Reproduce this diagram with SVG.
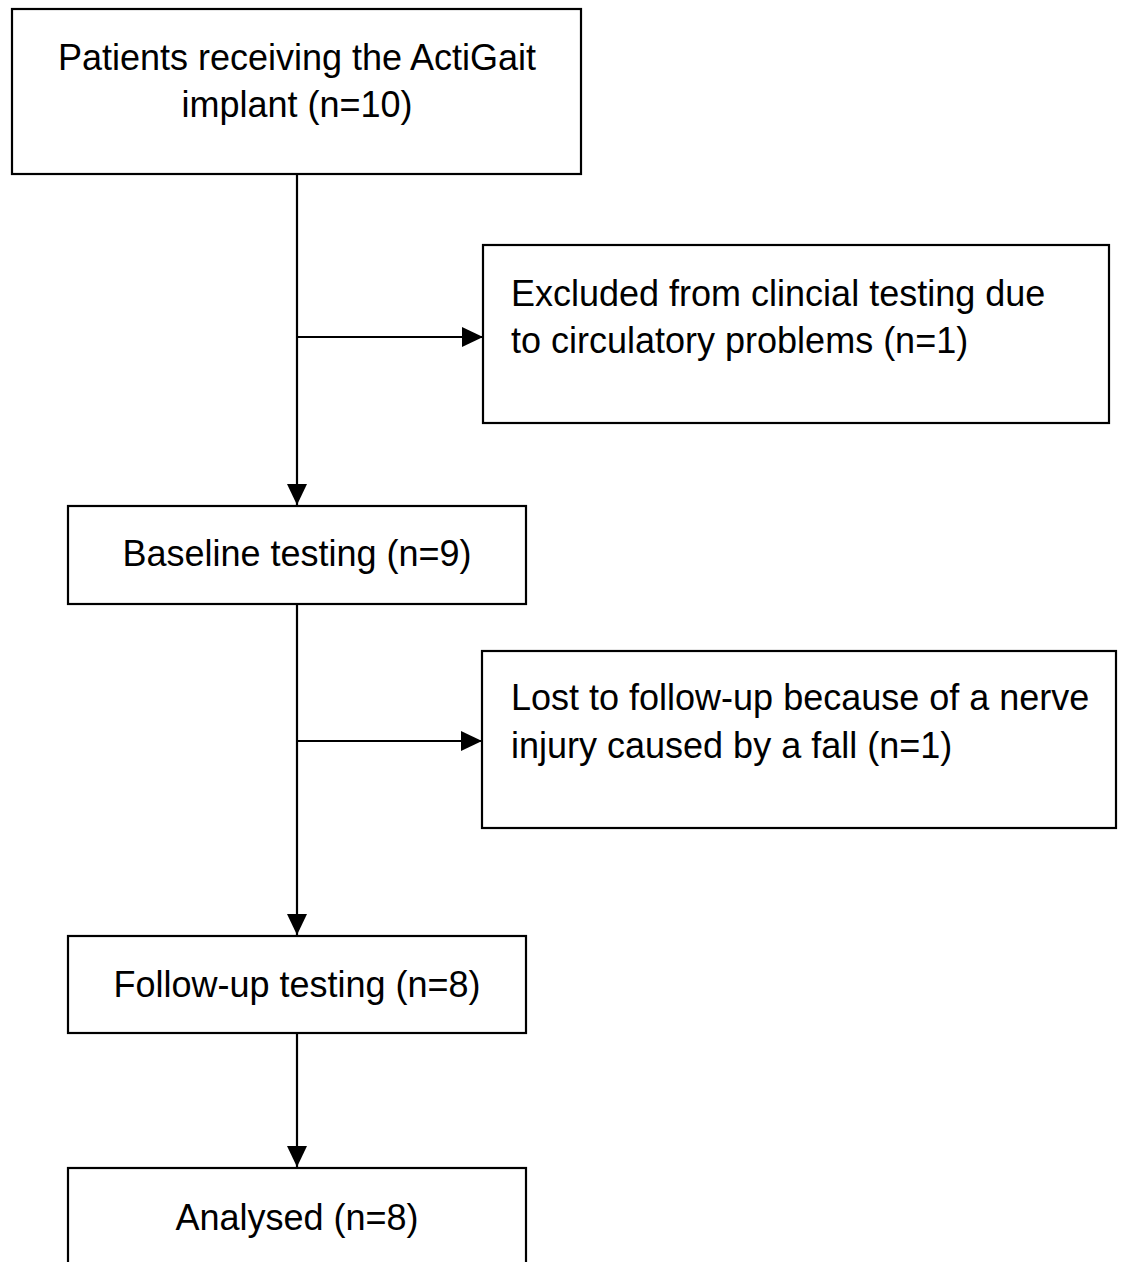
<svg xmlns="http://www.w3.org/2000/svg" width="1121" height="1262" viewBox="0 0 1121 1262">
<defs>
<style>
.box{fill:#fff;stroke:#000;stroke-width:2.2}
.t{font-family:"Liberation Sans",Arial,sans-serif;font-size:36px;fill:#000}
.c{text-anchor:middle}
.ln{stroke:#000;stroke-width:2.2;fill:none}
</style>
<marker id="ah" markerWidth="21" markerHeight="20" refX="21" refY="10" orient="auto" markerUnits="userSpaceOnUse">
<path d="M0,0 L21,10 L0,20 Z" fill="#000"/>
</marker>
</defs>
<rect width="1121" height="1262" fill="#fff"/>
<g id="connectors">
<line class="ln" x1="297" y1="174" x2="297" y2="505" marker-end="url(#ah)"/>
<line class="ln" x1="297" y1="337" x2="483" y2="337" marker-end="url(#ah)"/>
<line class="ln" x1="297" y1="604" x2="297" y2="935" marker-end="url(#ah)"/>
<line class="ln" x1="297" y1="741" x2="482" y2="741" marker-end="url(#ah)"/>
<line class="ln" x1="297" y1="1033" x2="297" y2="1167" marker-end="url(#ah)"/>
</g>
<g id="n1">
<rect class="box" x="12" y="9" width="569" height="165"/>
<text class="t c" x="297" y="70">Patients receiving the ActiGait</text>
<text class="t c" x="297" y="117">implant (n=10)</text>
</g>
<g id="n2">
<rect class="box" x="483" y="245" width="626" height="178"/>
<text class="t" x="511" y="306">Excluded from clincial testing due</text>
<text class="t" x="511" y="353">to circulatory problems (n=1)</text>
</g>
<g id="n3">
<rect class="box" x="68" y="506" width="458" height="98"/>
<text class="t c" x="297" y="566">Baseline testing (n=9)</text>
</g>
<g id="n4">
<rect class="box" x="482" y="651" width="634" height="177"/>
<text class="t" x="511" y="710">Lost to follow-up because of a nerve</text>
<text class="t" x="511" y="758">injury caused by a fall (n=1)</text>
</g>
<g id="n5">
<rect class="box" x="68" y="936" width="458" height="97"/>
<text class="t c" x="297" y="997">Follow-up testing (n=8)</text>
</g>
<g id="n6">
<rect class="box" x="68" y="1168" width="458" height="120"/>
<text class="t c" x="297" y="1230">Analysed (n=8)</text>
</g>
</svg>
